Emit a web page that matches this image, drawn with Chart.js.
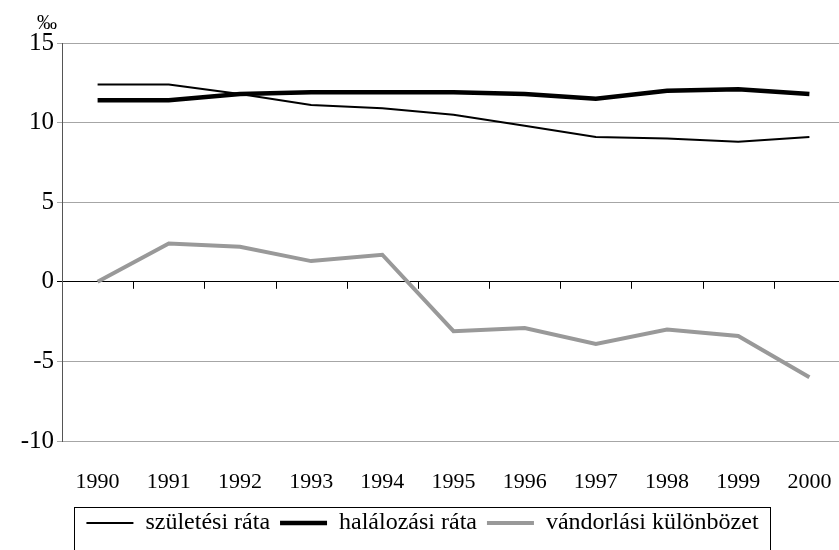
<!DOCTYPE html>
<html>
<head>
<meta charset="utf-8">
<script src="https://cdn.jsdelivr.net/npm/chart.js@4/dist/chart.umd.min.js"></script>
<style>
  html, body { margin: 0; padding: 0; background: #fff; overflow: hidden; }
  #wrap { width: 846px; height: 550px; }
</style>
</head>
<body>
<div id="wrap"><canvas id="myChart"></canvas></div>
<script>
const years = ['1990','1991','1992','1993','1994','1995','1996','1997','1998','1999','2000'];
const szuletesi = [12.4, 12.4, 11.8, 11.1, 10.9, 10.5, 9.8, 9.1, 9.0, 8.8, 9.1];
const halalozasi = [11.4, 11.4, 11.8, 11.9, 11.9, 11.9, 11.8, 11.5, 12.0, 12.1, 11.8];
const vandorlasi = [0, 2.4, 2.2, 1.3, 1.7, -3.1, -2.9, -3.9, -3.0, -3.4, -6.0];
const unitLabel = '‰';

const serif = "'Liberation Serif', 'Times New Roman', serif";

// tick marks hanging from the zero line, between categories
const zeroTicks = {
  id: 'zeroTicks',
  afterDatasetsDraw(chart) {
    const x = chart.scales.x, y = chart.scales.y;
    const y0 = y.getPixelForValue(0);
    const ctx = chart.ctx;
    ctx.save();
    ctx.strokeStyle = '#000';
    ctx.lineWidth = 1;
    ctx.beginPath();
    for (let i = 1; i < years.length; i++) {
      const px = Math.round((x.getPixelForValue(i - 1) + x.getPixelForValue(i)) / 2) + 0.5;
      ctx.moveTo(px, y0);
      ctx.lineTo(px, y0 + 7);
    }
    ctx.stroke();
    ctx.restore();
  }
};

// frame around the legend + unit label above the y axis
const extras = {
  id: 'extras',
  afterDraw(chart) {
    const ctx = chart.ctx;
    ctx.save();
    ctx.fillStyle = '#000';
    ctx.font = '20px ' + serif;
    ctx.textAlign = 'left';
    ctx.textBaseline = 'middle';
    ctx.fillText(unitLabel, 37, 24);

    const lg = chart.legend;
    if (lg && lg.legendHitBoxes.length) {
      const boxes = lg.legendHitBoxes;
      const l = Math.min(...boxes.map(b => b.left)) - 12;
      const r = Math.max(...boxes.map(b => b.left + b.width)) + 12;
      const t = lg.top + 6;
      ctx.strokeStyle = '#000';
      ctx.lineWidth = 1;
      ctx.strokeRect(Math.round(l) + 0.5, Math.round(t) + 0.5, Math.round(r - l), 80);
    }
    ctx.restore();
  }
};

new Chart('myChart', {
  type: 'line',
  data: {
    labels: years,
    datasets: [{
      label: 'születési ráta',
      data: szuletesi,
      borderColor: '#000',
      backgroundColor: '#000',
      borderWidth: 2,
      pointRadius: 0,
      tension: 0,
      fill: false
    }, {
      label: 'halálozási ráta',
      data: halalozasi,
      borderColor: '#000',
      backgroundColor: '#000',
      borderWidth: 4.5,
      pointRadius: 0,
      tension: 0,
      fill: false
    }, {
      label: 'vándorlási különbözet',
      data: vandorlasi,
      borderColor: '#999999',
      backgroundColor: '#999999',
      borderWidth: 4,
      pointRadius: 0,
      tension: 0,
      fill: false
    }]
  },
  options: {
    responsive: true,
    maintainAspectRatio: false,
    animation: false,
    layout: { padding: { left: 0, right: 1, top: 43, bottom: 5 } },
    plugins: {
      title: { display: false },
      legend: {
        position: 'bottom',
        labels: {
          usePointStyle: true,
          pointStyle: 'line',
          pointStyleWidth: 47,
          color: '#000',
          padding: 10,
          font: { family: serif, size: 24 }
        }
      },
      tooltip: { enabled: false }
    },
    scales: {
      x: {
        offset: true,
        // ticks hidden, tickLength only pushes the labels down
        grid: { display: false, drawTicks: true, tickLength: 25 },
        border: { display: false },
        ticks: { color: '#000', padding: 3, maxRotation: 0, font: { family: serif, size: 22 } },
        afterFit(s) { s.height = 60; }
      },
      y: {
        min: -10,
        max: 15,
        ticks: { stepSize: 5, color: '#000', padding: 3, font: { family: serif, size: 25 } },
        grid: {
          color: c => (c.tick && c.tick.value === 0) ? '#000' : '#a6a6a6',
          tickLength: 5
        },
        border: { color: '#555', width: 1 },
        afterFit(s) { s.width = 62; }
      }
    }
  },
  plugins: [zeroTicks, extras]
});
</script>
</body>
</html>
